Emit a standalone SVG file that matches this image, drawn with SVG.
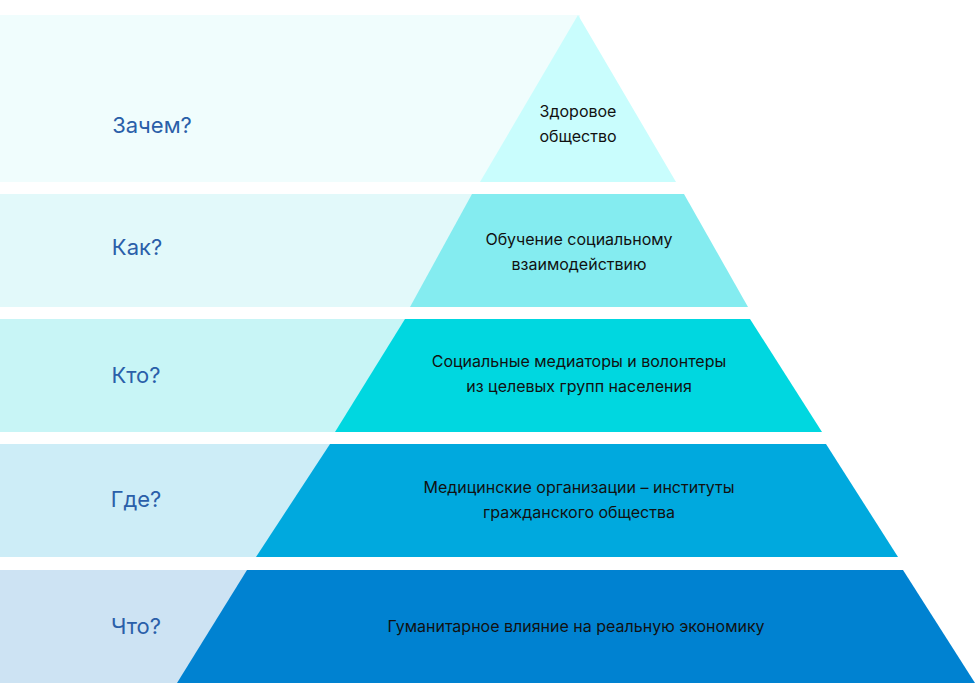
<svg xmlns="http://www.w3.org/2000/svg" width="976" height="700" viewBox="0 0 976 700">
<style>
.q{font-family:Inter,"Liberation Sans",sans-serif;font-size:22px;fill:#2a5fa9;text-anchor:middle}
.t{font-family:Inter,"Liberation Sans",sans-serif;font-size:16px;fill:#111;text-anchor:middle}
</style>
<rect width="976" height="700" fill="#fff"/>
<g id="level1">
<rect x="0" y="15" width="580" height="167" fill="#f0fdfd"/>
<polygon points="578,15 676,182 480,182" fill="#c9fdfd"/>
<text class="q" x="152" y="133">Зачем?</text>
<text class="t" x="578" y="117">Здоровое</text>
<text class="t" x="578" y="142">общество</text>
</g>
<g id="level2">
<rect x="0" y="194" width="480" height="113" fill="#e2f9fa"/>
<polygon points="472,194 684,194 748,307 410,307" fill="#84ecf0"/>
<text class="q" x="137" y="255">Как?</text>
<text class="t" x="579" y="245">Обучение социальному</text>
<text class="t" x="579" y="270">взаимодействию</text>
</g>
<g id="level3">
<rect x="0" y="319" width="410" height="113" fill="#c8f5f6"/>
<polygon points="405,319 750,319 822,432 335,432" fill="#00d7e0"/>
<text class="q" x="136" y="383">Кто?</text>
<text class="t" x="579" y="367">Социальные медиаторы и волонтеры</text>
<text class="t" x="579" y="392">из целевых групп населения</text>
</g>
<g id="level4">
<rect x="0" y="444" width="335" height="113" fill="#cdedf7"/>
<polygon points="330,444 826,444 898,557 256,557" fill="#00a9de"/>
<text class="q" x="136" y="507">Где?</text>
<text class="t" x="579" y="493">Медицинские организации – институты</text>
<text class="t" x="579" y="518">гражданского общества</text>
</g>
<g id="level5">
<rect x="0" y="570" width="250" height="113" fill="#cde3f3"/>
<polygon points="247,570 903,570 975,683 177,683" fill="#0082d1"/>
<text class="q" x="136" y="634">Что?</text>
<text class="t" x="576" y="632">Гуманитарное влияние на реальную экономику</text>
</g>
<g id="connectors"/>
</svg>
